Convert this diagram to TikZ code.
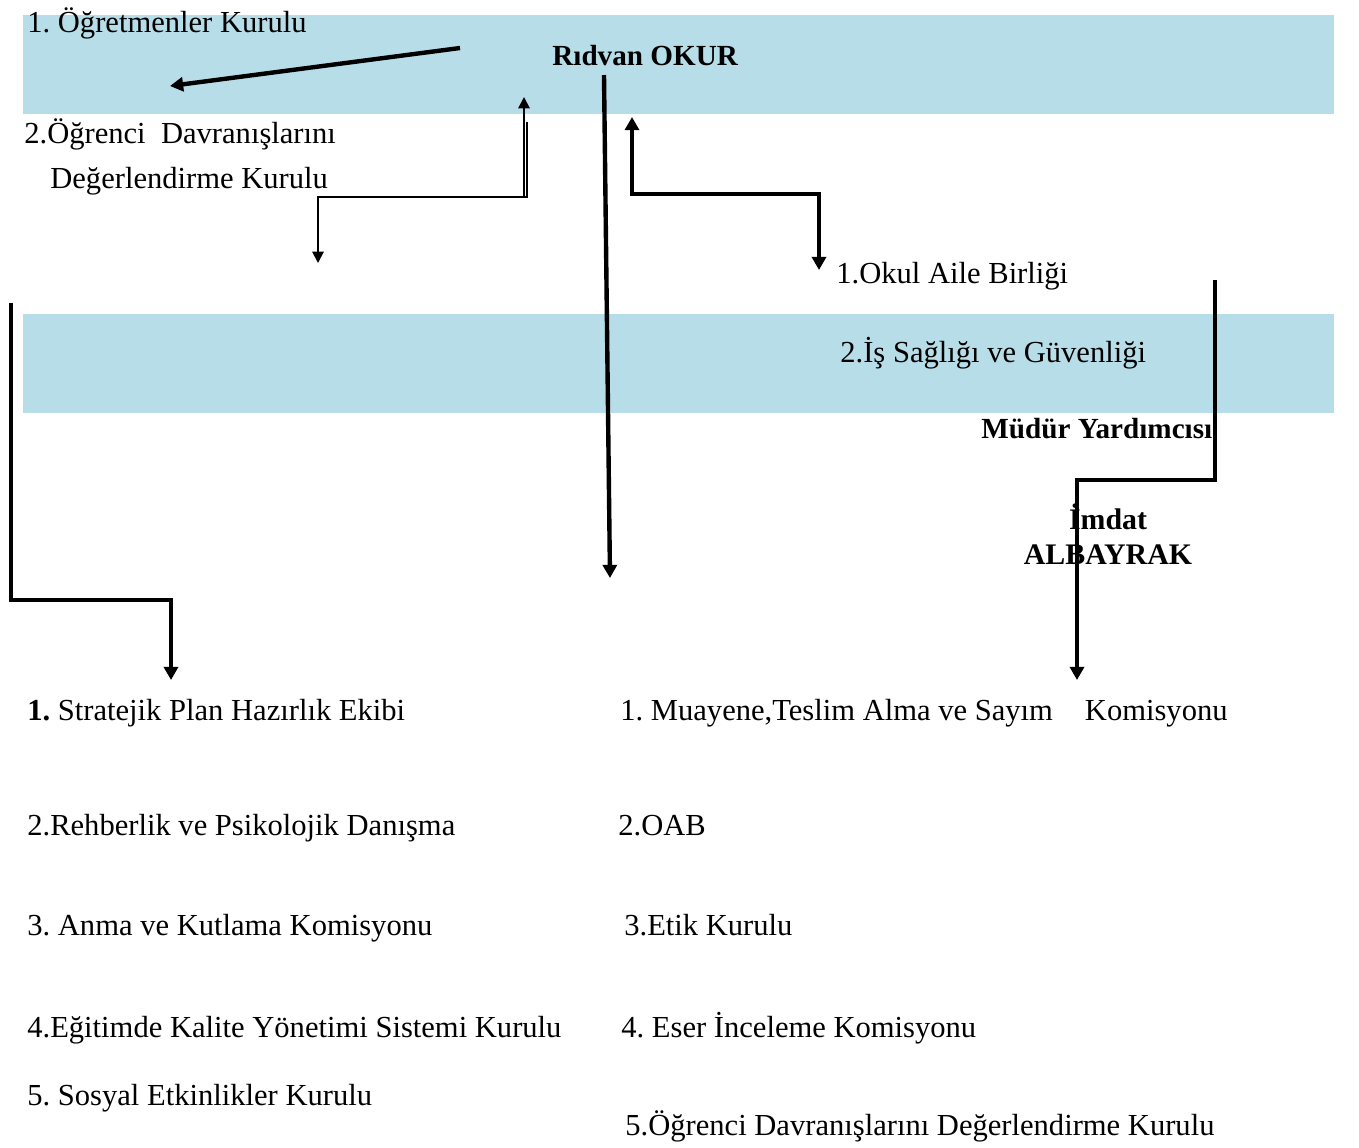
\documentclass[tikz,border=0pt]{standalone}
\usepackage{fontspec}
\setmainfont{Liberation Serif}
\usetikzlibrary{arrows.meta}
\definecolor{bandblue}{RGB}{183,221,232}
\frenchspacing
\tikzset{
  lbl/.style={anchor=base west, inner sep=0pt, font=\fontsize{17.4}{21}\selectfont},
  boss/.style={inner sep=0pt, font=\fontsize{16.6}{19.8}\selectfont\bfseries},
  link/.style={line width=2.5pt, -{Triangle[width=8pt,length=7.5pt]}},
  thinlink/.style={line width=1.1pt, {Triangle[width=6.5pt,length=6.5pt]}-{Triangle[width=6.5pt,length=6.5pt]}}
}
\begin{document}
\begin{tikzpicture}[x=0.02cm, y=-0.02cm]
    \useasboundingbox (0,0) rectangle (1359,1147);
    % light blue bands
    \fill[bandblue] (23,15) rectangle (1334,114);
    \fill[bandblue] (23,314) rectangle (1334,413);

    \node (ogrt) at (27,32) [lbl] {1. Öğretmenler Kurulu};
    \node (mudur) at (552,65) [boss, anchor=base west] {Rıdvan OKUR};
    \node (odk1) at (24,143) [lbl] {2.Öğrenci\ \ Davranışlarını};
    \node (odk2) at (50,188) [lbl] {Değerlendirme Kurulu};
    \node (oab) at (836,283) [lbl] {1.Okul Aile Birliği};
    \node (isg) at (840,362) [lbl] {2.İş Sağlığı ve Güvenliği};
    \node (myrd) at (981,438) [boss, anchor=base west] {Müdür Yardımcısı};
    \node (imdat) at (1108,534) [boss, align=center, font=\fontsize{17}{19.8}\selectfont\bfseries] {İmdat\\ALBAYRAK};

    \node (k1) at (27,720) [lbl] {\textbf{1.} Stratejik Plan Hazırlık Ekibi};
    \node (k2) at (27,835) [lbl] {2.Rehberlik ve Psikolojik Danışma};
    \node (k3) at (27,935) [lbl] {3. Anma ve Kutlama Komisyonu};
    \node (k4) at (27,1037) [lbl] {4.Eğitimde Kalite Yönetimi Sistemi Kurulu};
    \node (k5) at (27,1105) [lbl] {5. Sosyal Etkinlikler Kurulu};

    \node (m1) at (620,720) [lbl] {1. Muayene,Teslim Alma ve Sayım\hspace{0.64cm}Komisyonu};
    \node (m2) at (618,835) [lbl] {2.OAB};
    \node (m3) at (624,935) [lbl] {3.Etik Kurulu};
    \node (m4) at (621,1037) [lbl] {4. Eser İnceleme Komisyonu};
    \node (m5) at (625,1135) [lbl] {5.Öğrenci Davranışlarını Değerlendirme Kurulu};

    % connector ends
    \coordinate (a1) at (460,48);
    \coordinate (a2) at (170,86);
    \coordinate (b1) at (604,75);
    \coordinate (b2) at (610,578);
    \coordinate (c1) at (632,117);
    \coordinate (c2) at (819,270);
    \coordinate (d1) at (524,97);
    \coordinate (d2) at (318,263);
    \coordinate (e1) at (11,303);
    \coordinate (e2) at (171,680);
    \coordinate (f1) at (1215,280);
    \coordinate (f2) at (1077,680);

    \draw[link] (a1) to (a2);
    \draw[link] (b1) to (b2);
    \draw[link, {Triangle[width=8pt,length=7.5pt]}-{Triangle[width=8pt,length=7.5pt]}] (c1) |- (725,194) -| (c2);
    \draw[thinlink] (d1) |- (420,197) -| (d2);
    \draw[line width=1.1pt] (527,122) -- (527,197) -- (524,197);
    \draw[link] (e1) |- (90,600) -| (e2);
    \draw[link] (f1) |- (1140,480) -| (f2);
\end{tikzpicture}
\end{document}
